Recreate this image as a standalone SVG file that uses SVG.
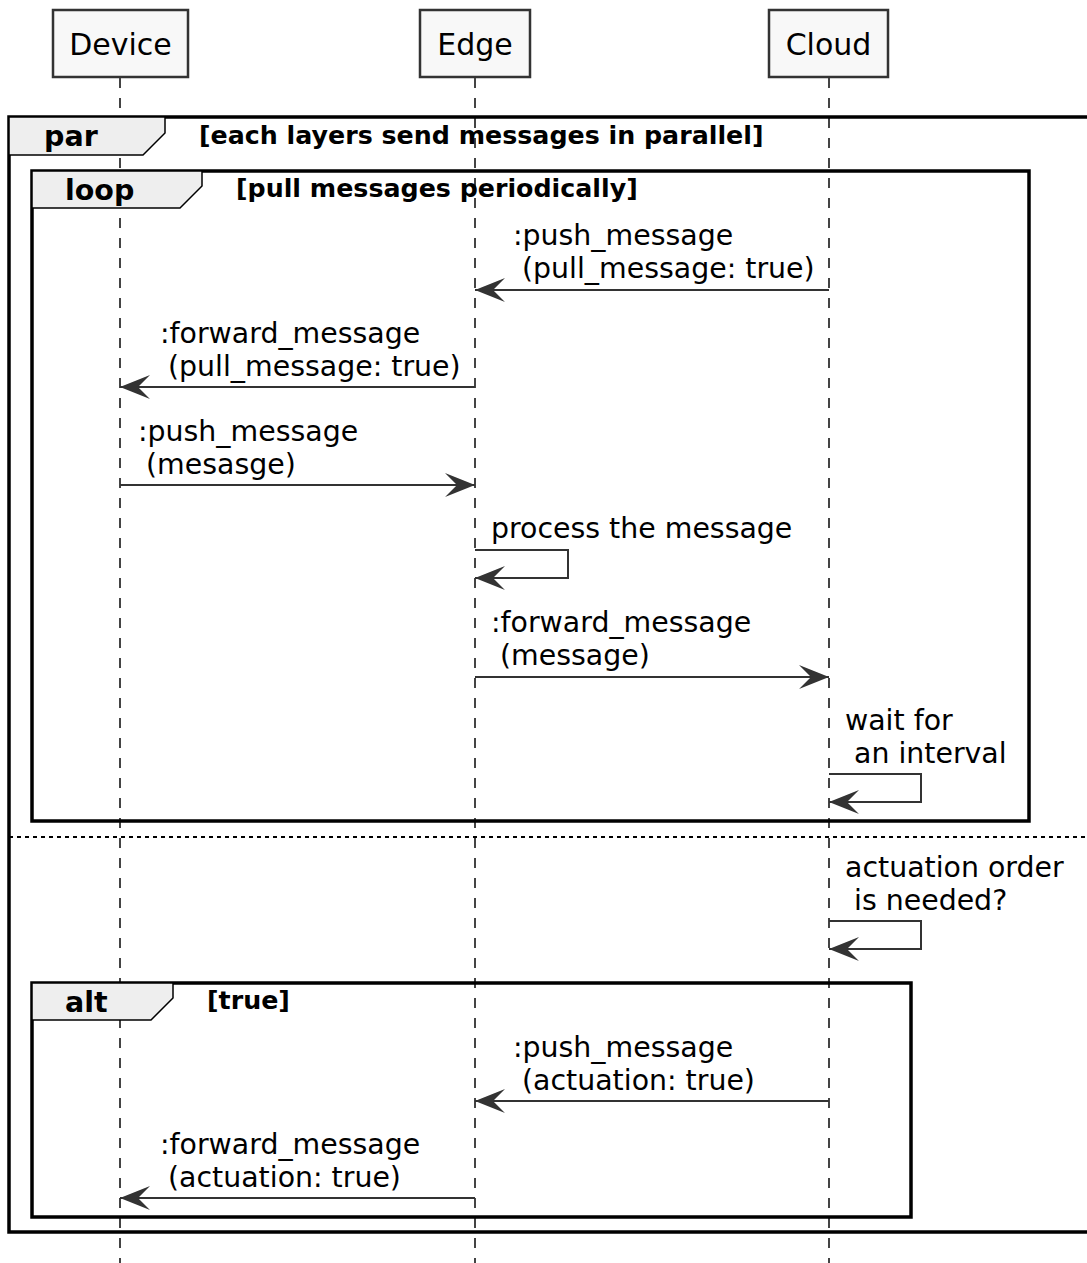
<svg xmlns="http://www.w3.org/2000/svg" width="1087" height="1263" viewBox="0 0 1087 1263">
<style>
text{font-family:"DejaVu Sans","Liberation Sans",sans-serif;fill:#000}
.part rect{fill:#f8f8f8;stroke:#333;stroke-width:2.5}
.part text{font-size:30px;text-anchor:middle}
.life{stroke:#444;stroke-width:2;stroke-dasharray:10,10;fill:none}
.frame{fill:none;stroke:#000;stroke-width:3.5}
.tab{fill:#eee;stroke:#000;stroke-width:1.5}
.kw{font-size:28.5px;font-weight:bold}
.cond{font-size:25.3px;font-weight:bold}
.msg{stroke:#333;stroke-width:2;fill:none;marker-end:url(#ah)}
.lbl{font-size:28.4px}
.sep{stroke:#000;stroke-width:2;stroke-dasharray:4,4}
</style>
<defs>
<marker id="ah" markerUnits="userSpaceOnUse" viewBox="-31 -13 32 26" refX="0" refY="0" markerWidth="32" markerHeight="26" orient="auto">
<path d="M0,0 L-30,-12 L-18,0 L-30,12 Z" fill="#333"/>
</marker>
</defs>
<rect width="1087" height="1263" fill="#fff"/>

<g id="p-device" class="part"><rect x="53" y="10" width="135" height="67"/><text x="120.5" y="55">Device</text></g>
<g id="p-edge" class="part"><rect x="420" y="10" width="110" height="67"/><text x="475" y="55">Edge</text></g>
<g id="p-cloud" class="part"><rect x="769" y="10" width="119" height="67"/><text x="828.5" y="55">Cloud</text></g>

<g id="lifelines">
<line class="life" x1="120" y1="78" x2="120" y2="1263"/>
<line class="life" x1="475" y1="78" x2="475" y2="1263"/>
<line class="life" x1="829" y1="78" x2="829" y2="1263"/>
</g>

<g id="frame-par">
<path class="frame" d="M1090,117 H9 V1232 H1090"/>
<polygon class="tab" points="9,117 165,117 165,133 143,155 9,155"/>
<text class="kw" x="44" y="146">par</text>
<text class="cond" x="199" y="144">[each layers send messages in parallel]</text>
<line class="sep" x1="9" y1="837" x2="1087" y2="837"/>
</g>

<g id="frame-loop">
<rect class="frame" x="32" y="171" width="997" height="650"/>
<polygon class="tab" points="32,171 202,171 202,186 180,208 32,208"/>
<text class="kw" x="65" y="200">loop</text>
<text class="cond" x="236" y="197">[pull messages periodically]</text>
</g>

<g id="frame-alt">
<rect class="frame" x="32" y="983" width="879" height="234"/>
<polygon class="tab" points="32,983 173,983 173,998 151,1020 32,1020"/>
<text class="kw" x="65" y="1012">alt</text>
<text class="cond" x="207" y="1009">[true]</text>
</g>

<g id="connectors">
<line class="msg" x1="829" y1="290" x2="475" y2="290"/>
<line class="msg" x1="475" y1="387" x2="120" y2="387"/>
<line class="msg" x1="120" y1="485" x2="475" y2="485"/>
<path class="msg" d="M475,550 H568 V578 H475"/>
<line class="msg" x1="475" y1="677" x2="829" y2="677"/>
<path class="msg" d="M829,774 H921 V802 H829"/>
<path class="msg" d="M829,921 H921 V949 H829"/>
<line class="msg" x1="829" y1="1101" x2="475" y2="1101"/>
<line class="msg" x1="475" y1="1198" x2="120" y2="1198"/>
</g>

<g id="labels" class="lbl">
<text class="lbl"><tspan x="513" y="245">:push_message</tspan><tspan x="522" y="278">(pull_message: true)</tspan></text>
<text class="lbl"><tspan x="160" y="343">:forward_message</tspan><tspan x="168" y="376">(pull_message: true)</tspan></text>
<text class="lbl"><tspan x="138" y="441">:push_message</tspan><tspan x="146" y="474">(mesasge)</tspan></text>
<text class="lbl" x="491" y="538">process the message</text>
<text class="lbl"><tspan x="491" y="632">:forward_message</tspan><tspan x="500" y="665">(message)</tspan></text>
<text class="lbl"><tspan x="845" y="730">wait for</tspan><tspan x="854" y="763">an interval</tspan></text>
<text class="lbl"><tspan x="845" y="877">actuation order</tspan><tspan x="854" y="910">is needed?</tspan></text>
<text class="lbl"><tspan x="513" y="1057">:push_message</tspan><tspan x="522" y="1090">(actuation: true)</tspan></text>
<text class="lbl"><tspan x="160" y="1154">:forward_message</tspan><tspan x="168" y="1187">(actuation: true)</tspan></text>
</g>
</svg>
